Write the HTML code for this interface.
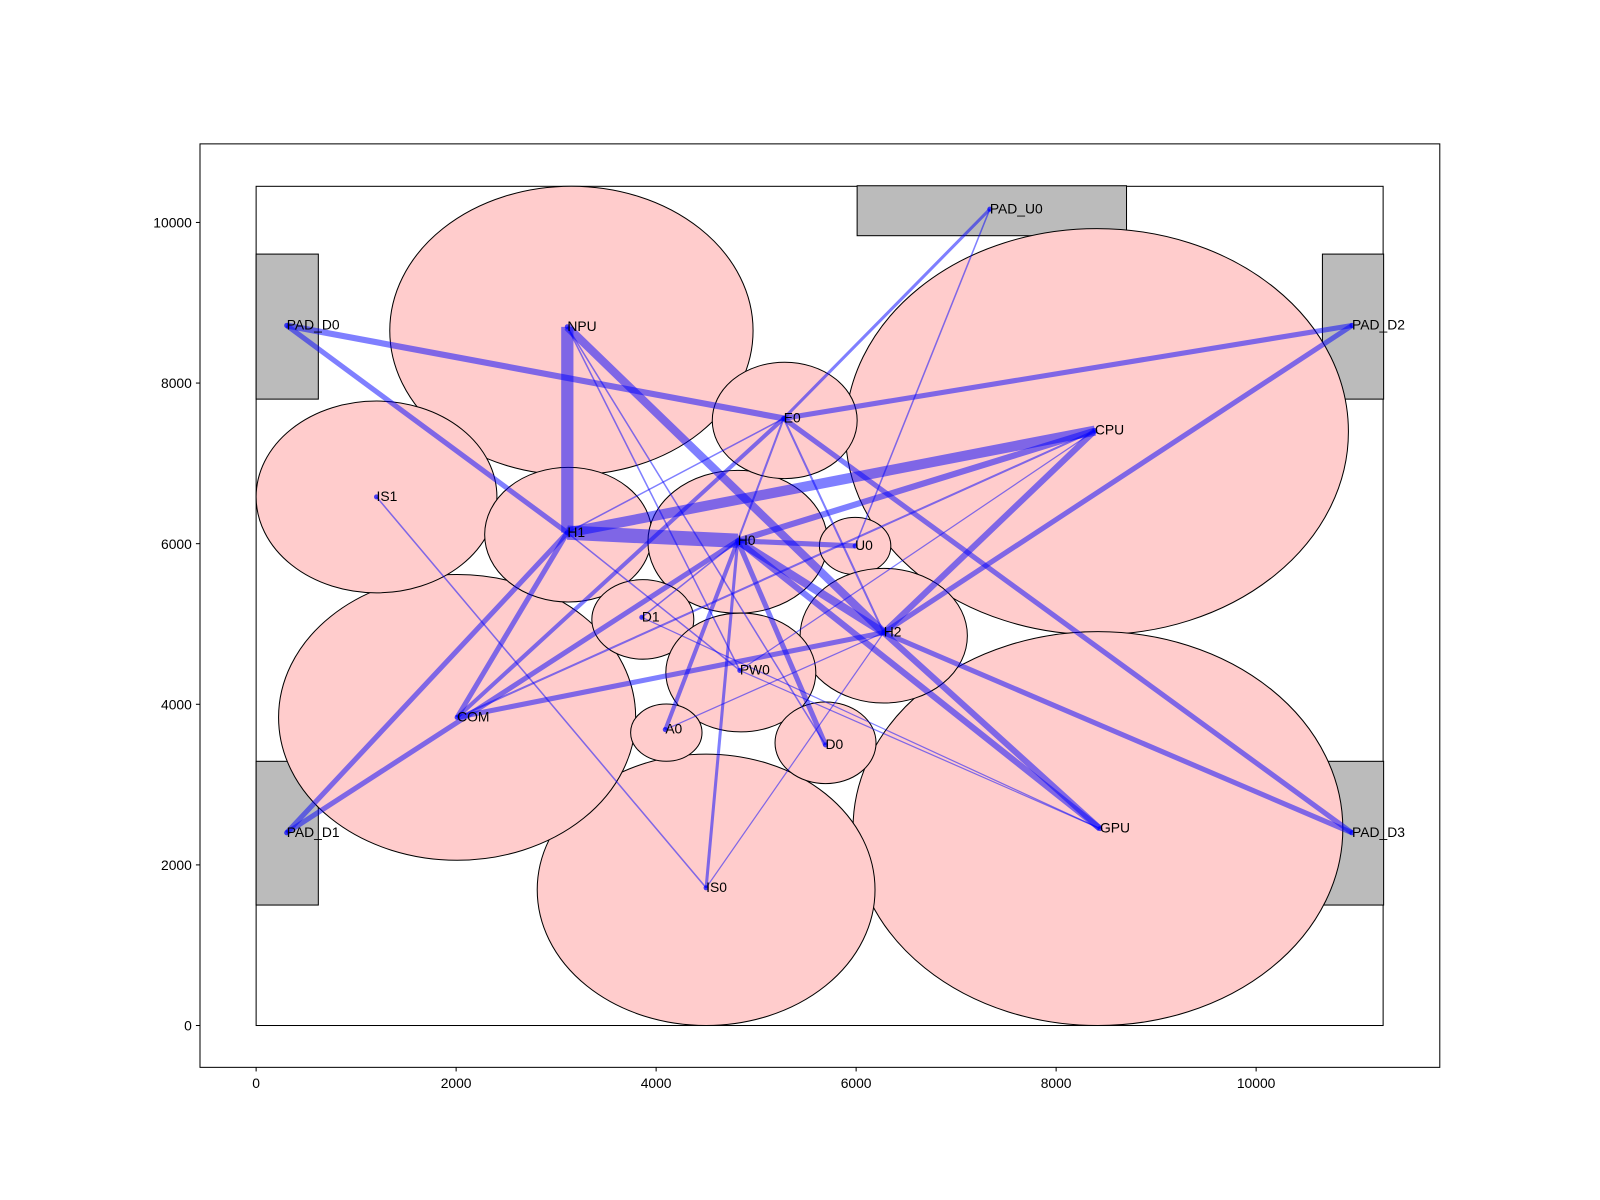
<!DOCTYPE html>
<html><head><meta charset="utf-8"><style>
html,body{margin:0;padding:0;background:#fff}
svg{display:block;font-family:"Liberation Sans",sans-serif}
</style></head><body>
<svg width="1600" height="1200" xmlns="http://www.w3.org/2000/svg"><g id="chart" transform="scale(1.020408)"></g></svg>
<script>
const xTicks=[0,2000,4000,6000,8000,10000];
const yTicks=[0,2000,4000,6000,8000,10000];
const blockNames=["NPU","CPU","GPU","IS0","COM","IS1","H1","H0","E0","U0","H2","D1","PW0","A0","D0"];
const blockCx=[3153,8408,8418,4500,2010,1204,3122,4816,5286,5990,6276,3867,4847,4102,5694];
const blockCy=[8653,7395,2452,1690,3837,6582,6112,6023,7535,5972,4854,5057,4396,3647,3520];
const blockW=[3633,5030,4898,3378,3571,2408,1673,1796,1449,714,1673,1020,1500,714,1010];
const blockH=[3596,5057,4905,3380,3558,2389,1677,1779,1449,712,1677,991,1480,712,1016];
const padNames=["PAD_D0","PAD_D1","PAD_D2","PAD_D3","PAD_U0"];
const padX0=[0,0,10663,10663,6010];
const padX1=[622,622,11275,11275,8704];
const padY0=[7800,1500,7800,1500,9835];
const padY1=[9606,3290,9606,3290,10457];
const nodeNames=["PAD_D0","PAD_D1","PAD_D2","PAD_D3","PAD_U0","NPU","CPU","GPU","E0","H1","H0","U0","H2","D1","PW0","COM","A0","D0","IS0","IS1"];
const nodeX=[306,306,10959,10959,7337,3112,8388,8439,5276,3112,4816,5990,6276,3857,4837,2010,4092,5694,4500,1204];
const nodeY=[8717,2400,8717,2400,10165,8700,7408,2452,7560,6137,6036,5972,4892,5083,4422,3837,3685,3494,1715,6582];
const edgeFrom=["PAD_D0","PAD_D0","PAD_D2","PAD_D2","PAD_D1","PAD_D1","PAD_D3","PAD_D3","PAD_U0","PAD_U0","NPU","NPU","NPU","NPU","H1","H1","H0","H1","H1","H1","H0","H0","H0","H0","H0","H0","H0","H0","COM","COM","COM","CPU","GPU","GPU","IS1","H2","E0","PW0","IS0","H2"];
const edgeTo=["E0","H1","E0","H2","H1","H0","H2","E0","E0","U0","H1","H2","PW0","D0","H0","CPU","CPU","E0","COM","PW0","H2","U0","E0","D1","A0","IS0","D0","GPU","E0","H2","CPU","H2","PW0","D1","IS0","GPU","H2","CPU","H2","A0"];
const edgeW=[6,5,5,5,5,5,5,5,3,1.5,12,8,1.5,1.5,14,10,6,1.5,5,1.5,8,5,2,1.5,4,3,5,6,4,5,2,6,1.2,1.2,1.5,6,2,1.2,1.2,1.2];

const X0=251,XS=0.098,Y0=1005,YS=0.0787;
const sx=v=>X0+v*XS, sy=v=>Y0-v*YS;
const svg=document.getElementById('chart');
const NS="http://www.w3.org/2000/svg";
function mk(tag,attrs,parent){const e=document.createElementNS(NS,tag);for(const k in attrs)e.setAttribute(k,attrs[k]);(parent||svg).appendChild(e);return e;}

const ax=mk('rect',{x:196,y:141,width:1215,height:905,fill:'none',stroke:'#000','stroke-width':1});


const die=mk('rect',{x:sx(0),y:sy(10450),width:11270*XS,height:10450*YS,fill:'none',stroke:'#000','stroke-width':1});



for(let i=0;i<padNames.length;i++){
  const r=mk('rect',{x:sx(padX0[i]),y:sy(padY1[i]),width:(padX1[i]-padX0[i])*XS,height:(padY1[i]-padY0[i])*YS,fill:'#bbbbbb',stroke:'#000','stroke-width':1});
  
  
}
for(let i=0;i<blockNames.length;i++){
  const e=mk('ellipse',{cx:sx(blockCx[i]),cy:sy(blockCy[i]),rx:blockW[i]*XS/2,ry:blockH[i]*YS/2,fill:'#ffcccc',stroke:'#000','stroke-width':1});
  
  
}
function idx(n){return nodeNames.indexOf(n);}
for(let i=0;i<edgeFrom.length;i++){
  const a=idx(edgeFrom[i]),b=idx(edgeTo[i]);
  const l=mk('line',{x1:sx(nodeX[a]),y1:sy(nodeY[a]),x2:sx(nodeX[b]),y2:sy(nodeY[b]),stroke:'rgba(0,0,255,0.5)','stroke-width':edgeW[i]});
  
  
}
for(let i=0;i<nodeNames.length;i++){
  const c=mk('circle',{cx:sx(nodeX[i]),cy:sy(nodeY[i]),r:2.5,fill:'rgba(0,0,255,0.7)'});
  
  
  const t=mk('text',{x:sx(nodeX[i]),y:sy(nodeY[i])+4,'font-size':13.6,fill:'#000'});
  t.textContent=nodeNames[i];
  
  
}
for(const v of xTicks){
  const x=sx(v);
  const tk=mk('line',{x1:x,y1:1046,x2:x,y2:1050,stroke:'#000'});
  
  
  const t=mk('text',{x:x,y:1066,'font-size':13.6,'text-anchor':'middle'});
  t.textContent=v;
  
  
}
for(const v of yTicks){
  const y=sy(v);
  const tk=mk('line',{x1:192,y1:y,x2:196,y2:y,stroke:'#000'});
  
  
  const t=mk('text',{x:188,y:y+5,'font-size':13.6,'text-anchor':'end'});
  t.textContent=v;
  
  
}
</script>
</body></html>
